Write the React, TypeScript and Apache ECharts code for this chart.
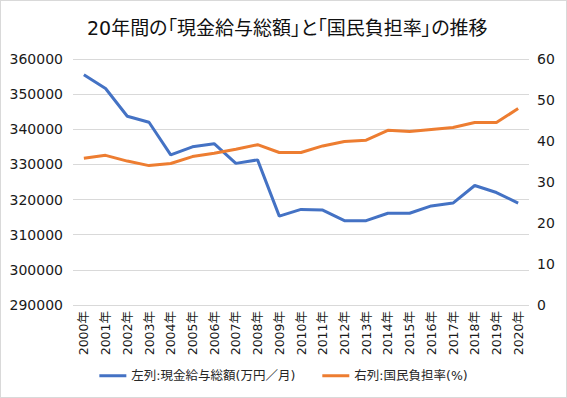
import React, { useEffect, useRef } from "react";
import * as echarts from "echarts";

const years = [
  "2000年", "2001年", "2002年", "2003年", "2004年", "2005年", "2006年", "2007年",
  "2008年", "2009年", "2010年", "2011年", "2012年", "2013年", "2014年", "2015年",
  "2016年", "2017年", "2018年", "2019年", "2020年",
];

const wages = [
  355500, 351600, 343700, 342000, 332700, 335000, 335900, 330300, 331300, 315300,
  317200, 317000, 314000, 314000, 316100, 316100, 318200, 319000, 324000, 322000, 319000,
];

const burdenRate = [
  35.8, 36.5, 35.1, 34.0, 34.5, 36.2, 37.0, 38.0, 39.1, 37.2,
  37.2, 38.8, 39.9, 40.2, 42.6, 42.3, 42.8, 43.3, 44.5, 44.5, 47.9,
];

const title = "20年間の「現金給与総額」と「国民負担率」の推移";
const wageName = "左列:現金給与総額(万円／月)";
const rateName = "右列:国民負担率(%)";

const FONT = "'DejaVu Sans', 'Noto Sans CJK JP', sans-serif";

export default function App() {
  const ref = useRef<HTMLDivElement>(null);
  useEffect(() => {
    document.body.style.margin = "0";
    const chart = echarts.init(ref.current!, null, { renderer: "svg" });
    chart.setOption({
      animation: false,
      backgroundColor: "#ffffff",
      textStyle: { fontFamily: FONT },
      title: {
        text: title,
        left: 81,
        top: 12,
        textStyle: { fontFamily: FONT, fontSize: 19, fontWeight: "normal", color: "#111111" },
      },
      legend: {
        bottom: 10,
        left: "center",
        itemWidth: 27,
        itemHeight: 3,
        itemGap: 27,
        icon: "rect",
        textStyle: { fontFamily: FONT, fontSize: 12.5, color: "#262626" },
        data: [wageName, rateName],
      },
      grid: { left: 72, right: 37, top: 58, bottom: 92, containLabel: false },
      xAxis: {
        type: "category",
        data: years,
        boundaryGap: true,
        axisLine: { show: false },
        axisTick: { show: false },
        axisLabel: {
          rotate: 90,
          interval: 0,
          fontSize: 12.5,
          color: "#1a1a1a",
          fontFamily: FONT,
          margin: 6,
        },
      },
      yAxis: [
        {
          type: "value",
          min: 290000,
          max: 360000,
          interval: 10000,
          axisLine: { show: false },
          axisTick: { show: false },
          splitLine: { lineStyle: { color: "#d9d9d9", width: 1 } },
          axisLabel: {
            fontSize: 14,
            color: "#1a1a1a",
            fontFamily: FONT,
            margin: 10,
            formatter: (v: number) => String(v),
          },
        },
        {
          type: "value",
          min: 0,
          max: 60,
          interval: 10,
          axisLine: { show: false },
          axisTick: { show: false },
          splitLine: { show: false },
          axisLabel: {
            fontSize: 14,
            color: "#1a1a1a",
            fontFamily: FONT,
            margin: 8,
            formatter: (v: number) => String(v),
          },
        },
      ],
      series: [
        {
          name: wageName,
          type: "line",
          data: wages,
          yAxisIndex: 0,
          symbol: "none",
          lineStyle: { color: "#4472C4", width: 3 },
          itemStyle: { color: "#4472C4" },
        },
        {
          name: rateName,
          type: "line",
          data: burdenRate,
          yAxisIndex: 1,
          symbol: "none",
          lineStyle: { color: "#ED7D31", width: 3 },
          itemStyle: { color: "#ED7D31" },
        },
      ],
    });
    return () => chart.dispose();
  }, []);
  return (
    <div
      style={{
        position: "absolute",
        left: 0,
        top: 0,
        width: 567,
        height: 398,
        boxSizing: "border-box",
        border: "1px solid #d9d9d9",
        background: "#fff",
        fontFeatureSettings: '"palt"',
      }}
    >
      <div ref={ref} style={{ width: 565, height: 396 }} />
    </div>
  );
}
